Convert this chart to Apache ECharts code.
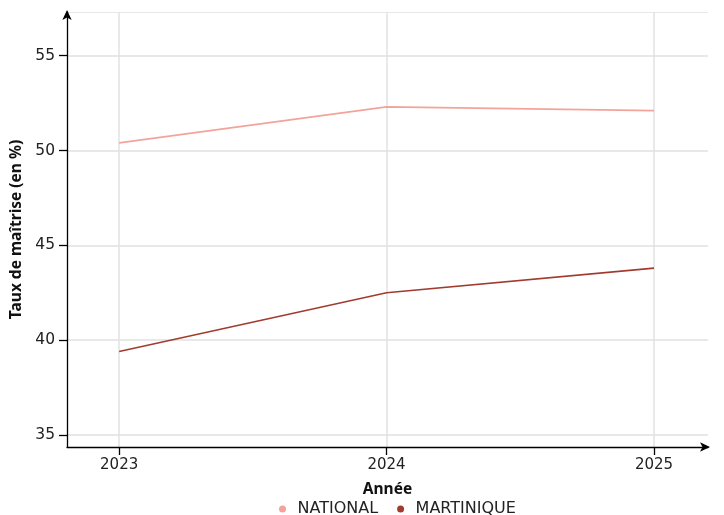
<!DOCTYPE html>
<html>
<head>
<meta charset="utf-8">
<script src="https://cdn.jsdelivr.net/npm/echarts@6/dist/echarts.min.js"></script>
<style>html,body{margin:0;padding:0;background:#fff}#c{width:724px;height:515px}</style>
</head>
<body>
<div id="c"></div>
<script>
const years = [2023, 2024, 2025];
const national = [50.4, 52.3, 52.1];
const martinique = [39.4, 42.5, 43.8];
const yMajor = [35, 40, 45, 50, 55];
const yMinor = [37.5, 42.5, 47.5, 52.5];
const seriesNames = ['NATIONAL', 'MARTINIQUE'];
const colors = ['#F4A39B', '#A23B2F'];

const FONT = '"Noto Sans", "Open Sans", sans-serif';
const WIDE = '"DejaVu Sans", "Noto Sans", sans-serif';
const chart = echarts.init(document.getElementById('c'), null, {renderer: 'canvas'});
const yMin = 34.37, yMax = 57.3;
const xMin = 2022.805, xMax = 2025.202;

chart.setOption({
  animation: false,
  textStyle: {fontFamily: FONT},
  grid: {left: 67, right: 16, top: 12, bottom: 68, containLabel: false},
  legend: {
    data: seriesNames,
    bottom: -2,
    left: 279,
    padding: 0,
    icon: 'circle',
    itemWidth: 20, itemHeight: 7, itemGap: 19,
    textStyle: {fontFamily: WIDE, fontSize: 16, color: '#222'}
  },
  xAxis: {
    type: 'value', min: xMin, max: xMax,
    name: 'Année', nameLocation: 'middle', nameGap: 35,
    nameTextStyle: {fontFamily: FONT, fontSize: 15.5, fontWeight: 'bold', color: '#111'},
    axisLine: {show: true, symbol: ['none', 'arrow'], symbolSize: [7, 10], symbolOffset: [0, 2], lineStyle: {color: '#000', width: 1.3}},
    axisTick: {show: true, customValues: years, length: 8, lineStyle: {color: '#000', width: 1.3}},
    axisLabel: {customValues: years, margin: 11, fontFamily: WIDE, fontSize: 15, color: '#222', formatter: v => String(v)},
    splitLine: {show: true, customValues: years, lineStyle: {color: '#e2e2e2', width: 1.5}}
  },
  yAxis: [{
    type: 'value', min: yMin, max: yMax,
    name: 'Taux de maîtrise (en %)', nameLocation: 'middle', nameGap: 36,
    nameTextStyle: {fontFamily: FONT, fontSize: 15.5, fontWeight: 'bold', color: '#111'},
    axisLine: {show: true, symbol: ['none', 'arrow'], symbolSize: [7, 10], symbolOffset: [0, 2], lineStyle: {color: '#000', width: 1.3}},
    axisTick: {show: true, customValues: yMajor, length: 8, lineStyle: {color: '#000', width: 1.3}},
    axisLabel: {customValues: yMajor, margin: 12, fontFamily: WIDE, fontSize: 15.5, color: '#222', formatter: v => String(v)},
    splitLine: {show: true, customValues: yMajor, lineStyle: {color: '#e0e0e0', width: 1.5}}
  }, {
    type: 'value', min: yMin, max: yMax, position: 'left',
    axisLine: {show: false}, axisTick: {show: false}, axisLabel: {show: false},
    axisPointer: {show: false},
    splitLine: {show: true, customValues: yMinor, lineStyle: {color: '#e8e8e8', width: 1}}
  }],
  series: [
    {name: seriesNames[0], type: 'line', showSymbol: false, color: colors[0],
     lineStyle: {width: 1.6}, z: 3,
     data: years.map((y, i) => [y, national[i]])},
    {name: seriesNames[1], type: 'line', showSymbol: false, color: colors[1],
     lineStyle: {width: 1.6}, z: 3,
     data: years.map((y, i) => [y, martinique[i]])}
  ]
});
</script>
</body>
</html>
